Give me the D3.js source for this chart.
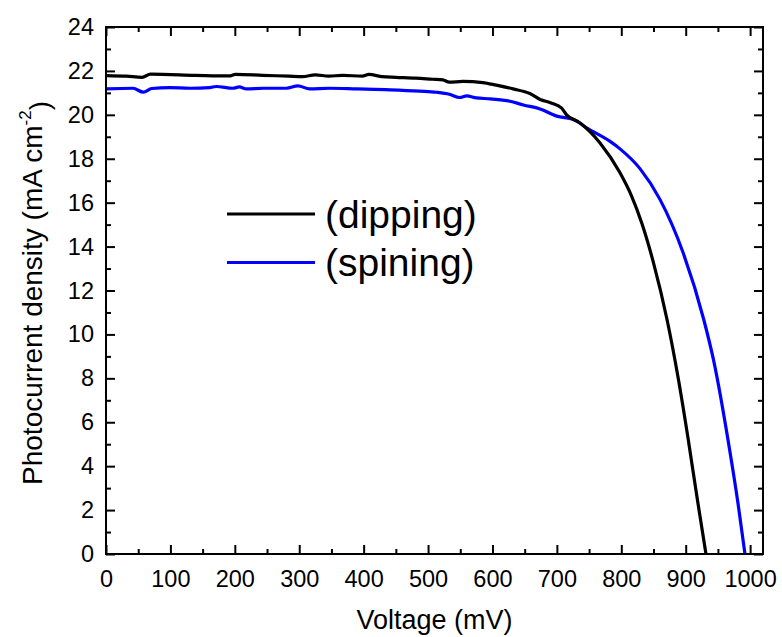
<!DOCTYPE html>
<html>
<head>
<meta charset="utf-8">
<script src="https://cdn.jsdelivr.net/npm/d3@7"></script>
<style>
  html, body { margin: 0; padding: 0; background: #fff; }
  svg { display: block; font-family: "Liberation Sans", Arial, Helvetica, sans-serif; }
</style>
</head>
<body>
<div id="chart"></div>
<script>
// values (mV, mA cm-2)
var dipV = [0, 32, 56, 69, 139, 191, 201, 243, 284, 305, 325, 346, 367, 398, 408, 429, 450, 481, 507, 523,
            533, 554, 585, 606, 632, 658, 674, 690, 707, 715, 736, 767, 798, 816, 832, 850, 871, 889, 904, 918, 931.5];
var dipJ = [21.79, 21.76, 21.71, 21.85, 21.80, 21.77, 21.84, 21.80, 21.76, 21.74, 21.82, 21.76, 21.80, 21.76, 21.84, 21.74, 21.71, 21.67, 21.62, 21.59,
            21.49, 21.52, 21.47, 21.35, 21.18, 20.97, 20.70, 20.55, 20.32, 20.00, 19.63, 18.72, 17.36, 16.30, 15.05, 13.26, 10.68, 7.90, 5.20, 2.50, 0.0];

var spinV = [0, 42, 58, 71, 99, 130, 161, 171, 197, 207, 218, 244, 280, 298, 316, 347, 389, 441, 487, 513,
             533, 549, 560, 575, 596, 627, 648, 674, 700, 726, 746, 782, 798, 829, 860, 896, 928, 943, 969, 981, 992];
var spinJ = [21.18, 21.21, 21.03, 21.20, 21.24, 21.21, 21.24, 21.29, 21.21, 21.27, 21.18, 21.21, 21.21, 21.32, 21.18, 21.21, 21.18, 21.14, 21.08, 21.03,
             20.94, 20.79, 20.86, 20.77, 20.73, 20.62, 20.45, 20.27, 19.94, 19.79, 19.41, 18.80, 18.45, 17.55, 16.15, 13.72, 10.68, 8.86, 4.60, 2.35, 0.0];

var seriesNames = ['(dipping)', '(spining)'];
var seriesColors = ['#000000', '#0000ff'];

var xMajor = [0, 100, 200, 300, 400, 500, 600, 700, 800, 900, 1000];
var xMinor = [50, 150, 250, 350, 450, 550, 650, 750, 850, 950];
var yMajor = [0, 2, 4, 6, 8, 10, 12, 14, 16, 18, 20, 22, 24];
var yMinor = [1, 3, 5, 7, 9, 11, 13, 15, 17, 19, 21, 23];

var W = 782, H = 637;
var margin = { top: 27, right: 19, bottom: 83, left: 106 };
var width = W - margin.left - margin.right;
var height = H - margin.top - margin.bottom;

var svg = d3.select('#chart').append('svg')
    .attr('width', W).attr('height', H);
var g = svg.append('g')
    .attr('transform', 'translate(' + margin.left + ',' + margin.top + ')');

var x = d3.scaleLinear().domain([0, 1020]).range([0, width]);
var y = d3.scaleLinear().domain([0, 24]).range([height, 0]);

function styleAxis(sel) {
    sel.select('.domain').remove();
    sel.selectAll('line').attr('stroke', '#000').attr('stroke-width', 2);
    sel.selectAll('text').attr('fill', '#000').style('font-size', '23.5px')
        .style('font-family', '"Liberation Sans", Arial, sans-serif');
}

// bottom / left with labels, ticks pointing inward
g.append('g').attr('transform', 'translate(0,' + height + ')')
    .call(d3.axisBottom(x).tickValues(xMajor).tickFormat(d3.format('d')).tickSize(-9).tickPadding(16))
    .call(styleAxis);
g.append('g').attr('transform', 'translate(0,' + height + ')')
    .call(d3.axisBottom(x).tickValues(xMinor).tickFormat('').tickSize(-5))
    .call(styleAxis);
g.append('g')
    .call(d3.axisLeft(y).tickValues(yMajor).tickFormat(d3.format('d')).tickSize(-9).tickPadding(12))
    .call(styleAxis);
g.append('g')
    .call(d3.axisLeft(y).tickValues(yMinor).tickFormat('').tickSize(-5))
    .call(styleAxis);

// mirrored top / right ticks
g.append('g')
    .call(d3.axisTop(x).tickValues(xMajor).tickFormat('').tickSize(-9))
    .call(styleAxis);
g.append('g')
    .call(d3.axisTop(x).tickValues(xMinor).tickFormat('').tickSize(-5))
    .call(styleAxis);
g.append('g').attr('transform', 'translate(' + width + ',0)')
    .call(d3.axisRight(y).tickValues(yMajor).tickFormat('').tickSize(-9))
    .call(styleAxis);
g.append('g').attr('transform', 'translate(' + width + ',0)')
    .call(d3.axisRight(y).tickValues(yMinor).tickFormat('').tickSize(-5))
    .call(styleAxis);

// curves
var line = d3.line()
    .x(function(d){ return x(d[0]); })
    .y(function(d){ return y(d[1]); })
    .curve(d3.curveMonotoneX);

svg.append('defs').append('clipPath').attr('id', 'plotclip')
    .append('rect').attr('width', width).attr('height', height + 2);

var series = [d3.zip(dipV, dipJ), d3.zip(spinV, spinJ)];
// blue first so black sits on top where they cross
[1, 0].forEach(function(i){
    g.append('path')
        .datum(series[i])
        .attr('clip-path', 'url(#plotclip)')
        .attr('fill', 'none')
        .attr('stroke', seriesColors[i])
        .attr('stroke-width', 3.2)
        .attr('stroke-linejoin', 'round')
        .attr('d', line);
});

// frame
g.append('rect')
    .attr('width', width).attr('height', height)
    .attr('fill', 'none').attr('stroke', '#000').attr('stroke-width', 2);

// legend
var legend = svg.append('g');
seriesNames.forEach(function(name, i){
    var ly = 214 + i * 48.5;
    legend.append('line')
        .attr('x1', 227).attr('x2', 315)
        .attr('y1', ly).attr('y2', ly)
        .attr('stroke', seriesColors[i]).attr('stroke-width', 3);
    legend.append('text')
        .attr('x', 325).attr('y', ly + 13.5)
        .style('font-size', '39px')
        .attr('fill', '#000')
        .text(name);
});

// axis titles
svg.append('text')
    .attr('x', margin.left + width / 2).attr('y', 629)
    .attr('text-anchor', 'middle')
    .style('font-size', '27px')
    .text('Voltage (mV)');

var yt = svg.append('text')
    .attr('transform', 'translate(42,' + 293 + ') rotate(-90)')
    .attr('text-anchor', 'middle')
    .style('font-size', '28px');
yt.append('tspan').text('Photocurrent density (mA cm');
yt.append('tspan').attr('dy', '-0.62em').style('font-size', '17px').text('-2');
yt.append('tspan').attr('dy', '0.62em').text(')');
</script>
</body>
</html>
